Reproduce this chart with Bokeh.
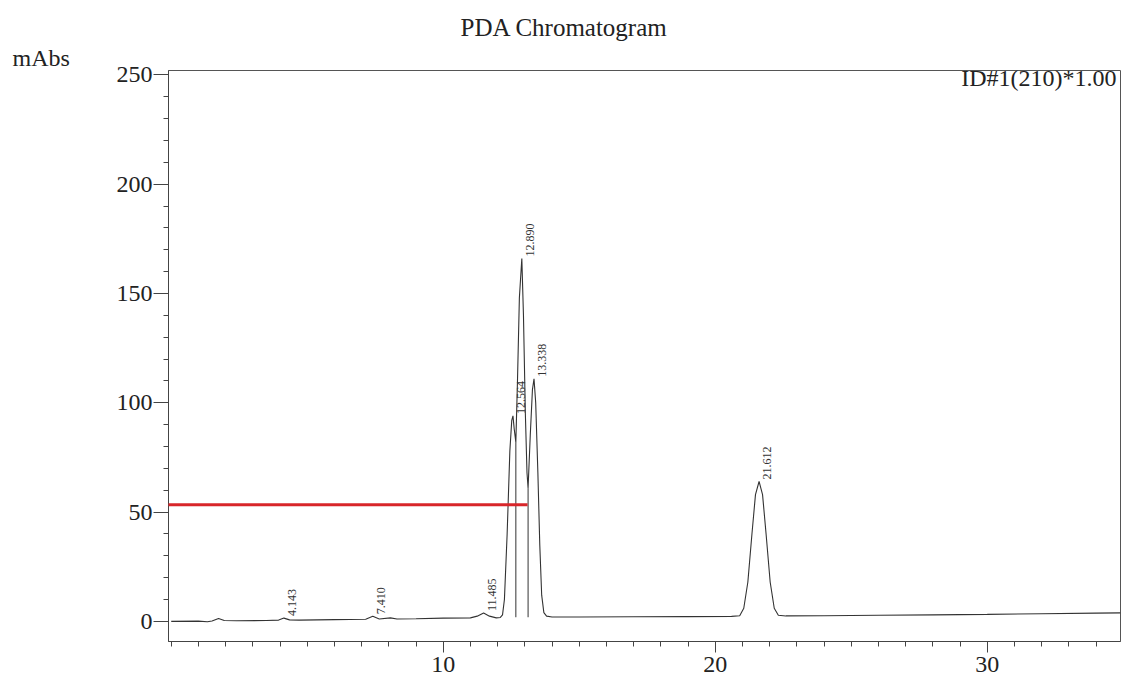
from bokeh.plotting import figure
from bokeh.models import Range1d, FixedTicker, Label, Arrow, ColumnDataSource, Title
from bokeh.core.properties import value
from bokeh.embed import file_html
from bokeh.resources import INLINE
import math

# ---- data ----
trace_time = [0.0, 1.0, 1.33, 1.5, 1.74, 1.95, 2.4, 3.5, 3.95, 4.143, 4.35, 4.7, 6.0, 7.15, 7.41, 7.65, 8.06, 8.3,
              9.0, 10.0, 11.0, 11.25, 11.485, 11.7, 11.95, 12.1, 12.18, 12.25, 12.35, 12.45, 12.52, 12.564, 12.61,
              12.67, 12.73, 12.80, 12.89, 12.95, 13.02, 13.08, 13.12, 13.2, 13.28, 13.338, 13.40, 13.48, 13.55,
              13.62, 13.7, 13.8, 14.0, 15.0, 17.0, 19.0, 20.6, 20.9, 21.05, 21.2, 21.35, 21.48, 21.612, 21.74,
              21.87, 22.02, 22.17, 22.32, 22.6, 24.0, 26.0, 28.0, 30.0, 32.0, 34.0, 34.9]
trace_mabs = [0.0, 0.1, -0.2, 0.2, 1.3, 0.4, 0.3, 0.4, 0.6, 1.5, 0.7, 0.6, 0.8, 1.0, 2.3, 1.1, 1.6, 1.1,
              1.2, 1.5, 1.6, 2.4, 3.8, 2.4, 1.6, 1.8, 3.0, 10.0, 40.0, 78.0, 92.0, 94.0, 88.0,
              82.0, 110.0, 148.0, 166.0, 140.0, 95.0, 68.0, 61.0, 85.0, 106.0, 111.0, 100.0, 68.0, 35.0,
              12.0, 4.0, 2.4, 2.0, 2.0, 2.1, 2.2, 2.3, 2.6, 6.0, 18.0, 40.0, 58.0, 64.0, 58.0,
              40.0, 18.0, 6.0, 2.8, 2.5, 2.6, 2.8, 3.0, 3.2, 3.5, 3.8, 3.9]

peak_times = [4.143, 7.410, 11.485, 12.564, 12.890, 13.338, 21.612]
peak_heights = [1.5, 2.3, 3.8, 94.0, 166.0, 111.0, 64.0]
peak_labels = ["4.143", "7.410", "11.485", "12.564", "12.890", "13.338", "21.612"]

drop_times = [12.67, 13.12]
drop_tops = [82.0, 61.0]
drop_base = [1.9, 1.9]

marker_x = [-0.48, 13.1]
marker_y = 53.3

x_ticks = [10, 20, 30]
x_minor = list(range(0, 35))
y_ticks = [0, 50, 100, 150, 200, 250]
y_minor = list(range(0, 260, 10))

SERIF = "Liberation Serif"
INK = "#333333"

p = figure(width=1121, height=681, x_range=Range1d(-0.1, 34.9), y_range=Range1d(-9.2, 252),
           output_backend="svg", toolbar_location=None,
           min_border_left=168, min_border_right=1, min_border_top=70, min_border_bottom=40)
p.background_fill_color = "white"
p.border_fill_color = "white"
p.outline_line_color = "#555555"
p.xgrid.visible = False
p.ygrid.visible = False

p.xaxis.ticker = FixedTicker(ticks=x_ticks, minor_ticks=x_minor)
p.yaxis.ticker = FixedTicker(ticks=y_ticks, minor_ticks=y_minor)
for ax in (p.xaxis, p.yaxis):
    ax.axis_line_color = "#444444"
    ax.major_tick_line_color = "#444444"
    ax.minor_tick_line_color = "#444444"
    ax.major_tick_in = 0
    ax.minor_tick_in = 0
    ax.minor_tick_out = 5
    ax.major_label_text_font = SERIF
    ax.major_label_text_font_size = "24px"
    ax.major_label_text_color = "#222222"
p.xaxis.major_tick_out = 11
p.xaxis.major_label_standoff = 4
p.yaxis.major_tick_out = 15
p.yaxis.major_label_standoff = 1

# chromatogram trace
p.line(trace_time, trace_mabs, line_color=INK, line_width=1.1)

# peak drop lines
p.segment(x0=drop_times, y0=drop_base, x1=drop_times, y1=drop_tops, line_color=INK, line_width=1)

# peak labels
src = ColumnDataSource(dict(x=peak_times, y=peak_heights, t=peak_labels))
p.text(x="x", y="y", text="t", source=src, angle=math.pi / 2, x_offset=8, y_offset=-2,
       text_align="left", text_baseline="middle", text_font=value(SERIF),
       text_font_size="12px", text_color="#333333")

# red marker line
p.add_layout(Arrow(end=None, x_start=marker_x[0], y_start=marker_y, x_end=marker_x[1], y_end=marker_y,
                   line_color="#d8262a", line_width=3))

# detector label inside the frame, top right
p.add_layout(Label(x=948, y=577, x_units="screen", y_units="screen", text="ID#1(210)*1.00",
                   text_align="right", text_baseline="top", text_font=SERIF,
                   text_font_size="24px", text_color="#222222"))

# unit label and chart title above the frame
t_unit = Title(text="mAbs", align="left", offset=-156, standoff=0,
               text_font_size="24px", text_font_style="normal", text_color="#222222")
t_unit.text_font = SERIF
t_main = Title(text="PDA Chromatogram", align="left", offset=292, standoff=4,
               text_font_size="25px", text_font_style="normal", text_color="#222222")
t_main.text_font = SERIF
p.add_layout(t_unit, "above")
p.add_layout(t_main, "above")

open("out.html", "w").write(file_html(p, INLINE))
